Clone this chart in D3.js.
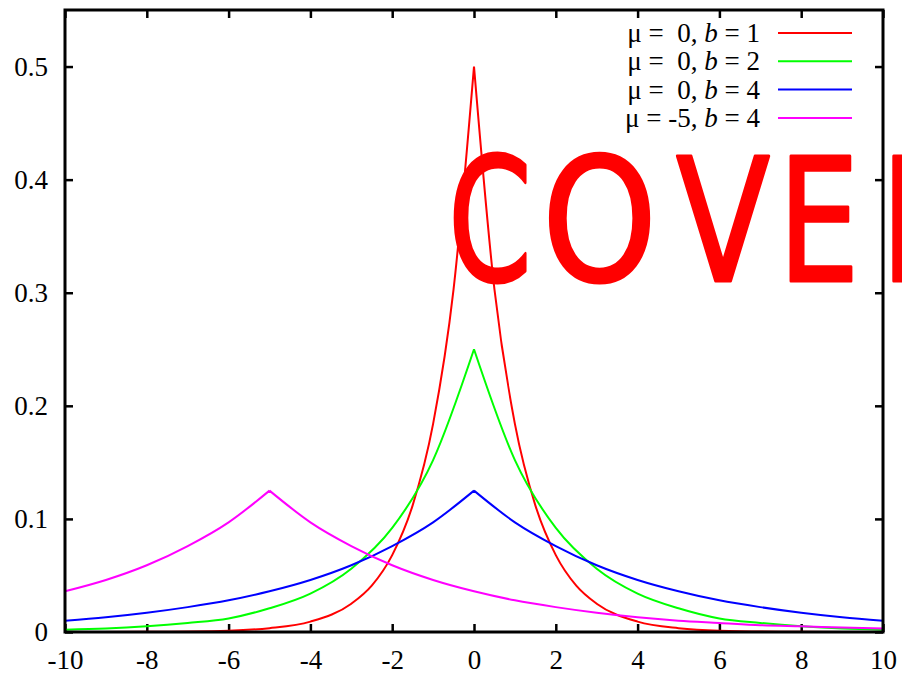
<!DOCTYPE html>
<html>
<head>
<meta charset="utf-8">
<script src="https://cdn.jsdelivr.net/npm/d3@7"></script>
<style>
  body { margin: 0; background: #fff; }
  svg { display: block; font-family: "Liberation Serif", "Times New Roman", serif; }
</style>
</head>
<body>
<svg id="chart" width="902" height="675"></svg>
<script>
// values
const xs = [-10, -9, -8, -7, -6, -5, -4, -3, -2, -1, 0, 1, 2, 3, 4, 5, 6, 7, 8, 9, 10]
const redXs = [-10, -8, -6, -5, -4, -3, -2.5, -2, -1.5, -1, -0.5, 0, 0.5, 1, 1.5, 2, 2.5, 3, 4, 5, 6, 8, 10]
const redYs = [0.0000, 0.0002, 0.0012, 0.0034, 0.0092, 0.025, 0.041, 0.068, 0.112, 0.184, 0.303, 0.5,
  0.303, 0.184, 0.112, 0.068, 0.041, 0.025, 0.0092, 0.0034, 0.0012, 0.0002, 0.0000]
const greenYs = [0.002, 0.003, 0.005, 0.008, 0.012, 0.021, 0.034, 0.056, 0.092, 0.152, 0.25,
  0.152, 0.092, 0.056, 0.034, 0.021, 0.012, 0.008, 0.005, 0.003, 0.002]
const blueYs = [0.010, 0.013, 0.017, 0.022, 0.028, 0.036, 0.046, 0.059, 0.076, 0.097, 0.125,
  0.097, 0.076, 0.059, 0.046, 0.036, 0.028, 0.022, 0.017, 0.013, 0.010]
const magentaYs = [0.036, 0.046, 0.059, 0.076, 0.097, 0.125, 0.097, 0.076, 0.059, 0.046, 0.036,
  0.028, 0.022, 0.017, 0.013, 0.010, 0.008, 0.006, 0.005, 0.004, 0.003]

const mus = [' 0', ' 0', ' 0', '-5']
const bs = ['1', '2', '4', '4']
const colors = ['#ff0000', '#00ff00', '#0000ff', '#ff00ff']

const xTicks = [-10, -8, -6, -4, -2, 0, 2, 4, 6, 8, 10]
const yTicks = [0, 0.1, 0.2, 0.3, 0.4, 0.5]

const series = [
  {xs: redXs, ys: redYs},
  {xs: xs, ys: greenYs},
  {xs: xs, ys: blueYs},
  {xs: xs, ys: magentaYs}
]

const width = 902, height = 675
const margin = {top: 10, right: 19, bottom: 43, left: 65}

const svg = d3.select('#chart')

const x = d3.scaleLinear().domain([-10, 10]).range([margin.left, width - margin.right])
const y = d3.scaleLinear().domain([0, 0.55]).range([height - margin.bottom, margin.top])

const fontSize = 27

// axes, ticks pointing inward on all four sides
function styleAxis(g) {
  g.select('.domain').remove()
  g.selectAll('.tick line').attr('stroke', '#000').attr('stroke-width', 2.5)
  g.selectAll('.tick text')
    .attr('fill', '#000')
    .attr('font-size', fontSize)
    .attr('font-family', '"Liberation Serif", serif')
}

svg.append('g')
  .attr('transform', `translate(0,${height - margin.bottom})`)
  .call(d3.axisBottom(x).tickValues(xTicks).tickFormat(d => String(d)).tickSizeInner(-8).tickSizeOuter(0).tickPadding(18))
  .call(styleAxis)

svg.append('g')
  .attr('transform', `translate(0,${margin.top})`)
  .call(d3.axisTop(x).tickValues(xTicks).tickFormat('').tickSizeInner(-8).tickSizeOuter(0))
  .call(styleAxis)

svg.append('g')
  .attr('transform', `translate(${margin.left},0)`)
  .call(d3.axisLeft(y).tickValues(yTicks).tickFormat(d => d === 0 ? '0' : d3.format('.1f')(d)).tickSizeInner(-8).tickSizeOuter(0).tickPadding(17))
  .call(styleAxis)

svg.append('g')
  .attr('transform', `translate(${width - margin.right},0)`)
  .call(d3.axisRight(y).tickValues(yTicks).tickFormat('').tickSizeInner(-8).tickSizeOuter(0))
  .call(styleAxis)

// curves, split at the peak so the cusp stays sharp
const line = d3.line()
  .x(d => x(d[0]))
  .y(d => y(d[1]))
  .curve(d3.curveMonotoneX)

const plot = svg.append('g')

series.forEach((s, i) => {
  const pts = s.xs.map((v, k) => [v, s.ys[k]])
  const peak = d3.maxIndex(pts, d => d[1])
  const d = line(pts.slice(0, peak + 1)) + line(pts.slice(peak))
  plot.append('path')
    .attr('d', d)
    .attr('fill', 'none')
    .attr('stroke', colors[i])
    .attr('stroke-width', 2)
})

// frame
svg.append('rect')
  .attr('x', margin.left)
  .attr('y', margin.top)
  .attr('width', width - margin.left - margin.right)
  .attr('height', height - margin.top - margin.bottom)
  .attr('fill', 'none')
  .attr('stroke', '#000')
  .attr('stroke-width', 3)

// legend
const legend = svg.append('g')
const rowH = 28.3
mus.forEach((mu, i) => {
  const cy = 33 + i * rowH
  const t = legend.append('text')
    .attr('x', 760)
    .attr('y', cy + 9)
    .attr('text-anchor', 'end')
    .attr('font-size', 27)
    .style('white-space', 'pre')
  t.append('tspan').text('\u03bc = ' + mu + ', ')
  t.append('tspan').attr('font-style', 'italic').text('b')
  t.append('tspan').text(' = ' + bs[i])

  legend.append('line')
    .attr('x1', 778).attr('x2', 852)
    .attr('y1', cy).attr('y2', cy)
    .attr('stroke', colors[i])
    .attr('stroke-width', 2)
})

// red stamp over the chart
const stamp = ['C', 'O', 'V', 'E', 'R']
const stampX = [448, 542, 676, 778, 880]
const stampScale = [0.7, 0.85, 0.8, 0.75, 0.8]
stamp.forEach((ch, i) => {
  svg.append('text')
    .attr('transform', `translate(${stampX[i]},281) scale(${stampScale[i]},1)`)
    .attr('font-family', '"DejaVu Sans", sans-serif')
    .attr('font-size', 172)
    .attr('fill', '#ff0000')
    .attr('stroke', '#ff0000')
    .attr('stroke-width', 3)
    .attr('stroke-linejoin', 'round')
    .text(ch)
})
</script>
</body>
</html>
